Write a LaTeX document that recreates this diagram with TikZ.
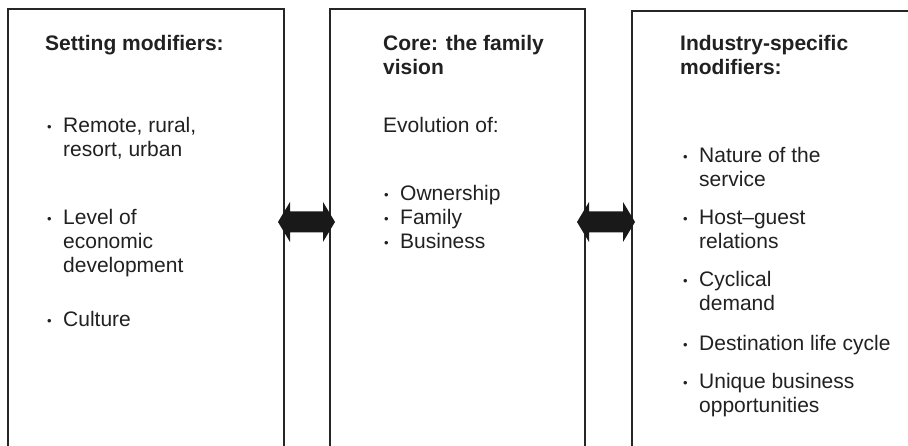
\documentclass[tikz,border=0pt]{standalone}
\usepackage{fontspec}
\setmainfont{Liberation Sans}
\usetikzlibrary{calc}
\newcommand\smallbullet{\raisebox{1pt}{\fontsize{13}{13}\selectfont •}}
\newcommand\bitem[1]{\makebox[16pt][l]{\smallbullet}\begin{tabular}[t]{@{}l@{}}#1\end{tabular}}
\newcommand\lines[1]{\begin{tabular}[t]{@{}l@{}}#1\end{tabular}}
\begin{document}
\begin{tikzpicture}[x=1pt,y=1pt,
  boxframe/.style={draw=black!85,line width=1.1pt,minimum width=#1,minimum height=470pt,anchor=north west,inner sep=0pt,outer sep=0pt},
  hd/.style={anchor=base west,inner sep=0pt,font=\bfseries\fontsize{21}{24}\selectfont,text=black!87},
  tx/.style={anchor=base west,inner sep=0pt,font=\fontsize{21}{24}\selectfont,text=black!87},
  blockarrow/.style={fill=black!90}]
\useasboundingbox (0,0) rectangle (908,446);
\clip (0,0) rectangle (908,446);
\fill[white] (0,0) rectangle (908,446);
% boxes
\node[boxframe=276pt] (L) at (8,437) {};
\node[boxframe=255pt] (M) at (330,437) {};
\node[boxframe=320pt] (R) at (632,435) {};
% left box text
\node[hd] (lh) at (45,395) {Setting modifiers:};
\node[tx] (l1) at (47,313) {\bitem{Remote, rural,\\resort, urban}};
\node[tx] (l2) at (47,221) {\bitem{Level of\\economic\\development}};
\node[tx] (l3) at (47,119) {\bitem{Culture}};
% middle box text
\node[hd] (mh) at (383,395) {\lines{Core: the family\\vision}};
\node[tx] (m0) at (383,313) {Evolution of:};
\node[tx] (m1) at (384,245) {\bitem{Ownership}};
\node[tx] (m2) at (384,221) {\bitem{Family}};
\node[tx] (m3) at (384,197) {\bitem{Business}};
% right box text
\node[hd] (rh) at (680,395) {\lines{Industry-specific\\modifiers:}};
\node[tx] (r1) at (683,283) {\bitem{Nature of the\\service}};
\node[tx] (r2) at (683,221) {\bitem{Host--guest\\relations}};
\node[tx] (r3) at (683,159) {\bitem{Cyclical\\demand}};
\node[tx] (r4) at (683,95) {\bitem{Destination life cycle}};
\node[tx] (r5) at (683,57) {\bitem{Unique business\\opportunities}};
% block double arrows between boxes
\fill[blockarrow] ($(L.north east)+(-6,-213)$) coordinate (la)
  -- ++(12,20) -- ++(0,-9.5) -- ++(33,0) -- ++(0,9.5) -- ++(12,-20)
  -- ++(-12,-20) -- ++(0,9.5) -- ++(-33,0) -- ++(0,-9.5) -- cycle;
\fill[blockarrow] ($(M.north east)+(-8,-213)$) coordinate (ra)
  -- ++(12,20) -- ++(0,-9.5) -- ++(34,0) -- ++(0,9.5) -- ++(12,-20)
  -- ++(-12,-20) -- ++(0,9.5) -- ++(-34,0) -- ++(0,-9.5) -- cycle;
\end{tikzpicture}
\end{document}
